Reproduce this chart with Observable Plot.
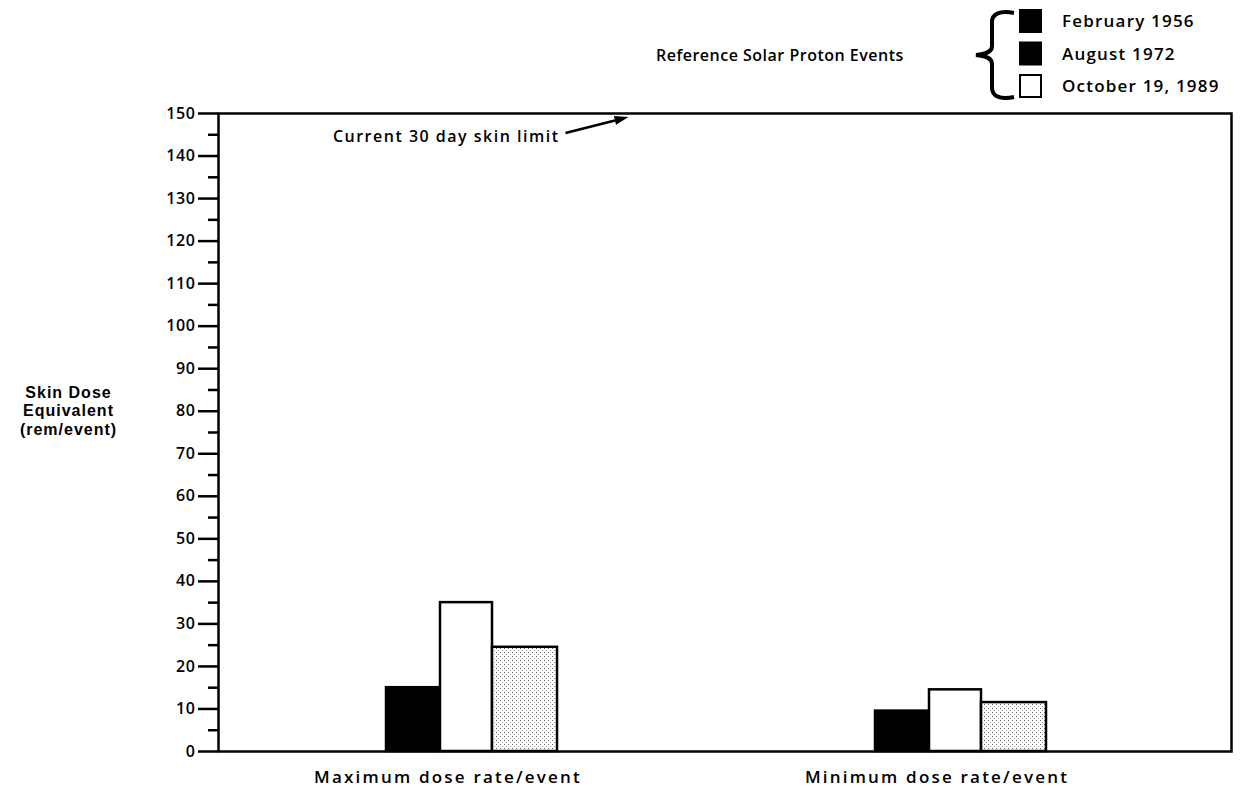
<!DOCTYPE html>
<html>
<head>
<meta charset="utf-8">
<script src="https://cdn.jsdelivr.net/npm/d3@7"></script>
<script src="https://cdn.jsdelivr.net/npm/@observablehq/plot@0.6"></script>
<style>
  body { margin: 0; background: #fff; font-family: "Open Sans", sans-serif; }
  #legend { height: 100px; }
  #legend text { font-family: "Open Sans", sans-serif; font-weight: 600; fill: #000; }
  #chart svg text { font-family: "Open Sans", sans-serif; font-weight: 600; }
  .ann { letter-spacing: 1.5px; font-size: 16px; }
  .cat text { letter-spacing: 2.2px; }
  .ytick text { letter-spacing: 0.6px; }
  #chart svg .ylab text { font-family: "Liberation Sans", sans-serif; font-weight: 700; letter-spacing: 1px; }
</style>
</head>
<body>
<div id="legend"></div>
<div id="chart"></div>
<svg width="0" height="0" style="position:absolute">
  <defs>
    <pattern id="stipple" width="4" height="4" patternUnits="userSpaceOnUse">
      <rect width="4" height="4" fill="#fff"></rect>
      <rect x="0" y="0" width="1" height="1" fill="#666"></rect>
      <rect x="2" y="2" width="1" height="1" fill="#999"></rect>
    </pattern>
  </defs>
</svg>
<script>
// ---- data ----
const groups = ["Maximum dose rate/event", "Minimum dose rate/event"];
const events = ["February 1956", "August 1972", "October 19, 1989"];
const maxValues = [15, 35, 24.5];
const minValues = [9.5, 14.5, 11.5];
const yTicks = [0, 10, 20, 30, 40, 50, 60, 70, 80, 90, 100, 110, 120, 130, 140, 150];
const yMinorTicks = [5, 15, 25, 35, 45, 55, 65, 75, 85, 95, 105, 115, 125, 135, 145];
const yLabel = "Skin Dose\nEquivalent\n(rem/event)";
const legendTitle = "Reference Solar Proton Events";
const annotationText = "Current 30 day skin limit";
const annotationValue = 150;

// ---- styles ----
const barFills = ["black", "white", "url(#stipple)"];
const barInsets = [[0, 117], [54, 65], [106, 0]];
const legendFills = ["black", "black", "white"];

const rows = groups.flatMap((g, gi) =>
  events.map((e, ei) => ({group: g, event: e, value: (gi === 0 ? maxValues : minValues)[ei]}))
);

// ---- legend (above the chart) ----
const leg = d3.select("#legend").append("svg").attr("width", 1243).attr("height", 100);
leg.append("text").attr("x", 656).attr("y", 61).attr("font-size", 16)
  .attr("letter-spacing", "0.5px").text(legendTitle);
leg.append("path")
  .attr("d", "M1014,13 C1000,10 992,14 992,22 L992,46 C992,52 986,54 976,55 C986,56 992,58 992,64 L992,88 C992,96 1000,100 1014,97")
  .attr("fill", "none").attr("stroke", "black").attr("stroke-width", 4);
events.forEach((e, i) => {
  const top = 10 + i * 32.5;
  leg.append("rect").attr("x", 1020).attr("y", top).attr("width", 21).attr("height", 22)
    .attr("fill", legendFills[i]).attr("stroke", "black").attr("stroke-width", 2);
  leg.append("text").attr("x", 1062).attr("y", top + 17).attr("font-size", 17)
    .attr("letter-spacing", "1.2px").text(e);
});

// ---- annotation mark (uses the chart's scales) ----
function annotation(index, scales) {
  const x = scales.x, y = scales.y;
  const bw = typeof x.bandwidth === "function" ? x.bandwidth() : (x.bandwidth || 0);
  const cx = x(groups[0]) + bw / 2;
  const y0 = y(annotationValue);
  const g = d3.create("svg:g");
  g.append("text").attr("class", "ann").attr("x", cx + 88).attr("y", y0 + 29).attr("text-anchor", "end")
    .attr("fill", "black").text(annotationText);
  const x1 = cx + 94, y1 = y0 + 20, tx = cx + 157, ty = y0 + 4;
  const dx = tx - x1, dy = ty - y1, len = Math.hypot(dx, dy);
  const ux = dx / len, uy = dy / len, nx = -uy, ny = ux;
  const hl = 14, hw = 4.5;
  const bx = tx - ux * hl, by = ty - uy * hl;
  g.append("line").attr("x1", x1).attr("y1", y1).attr("x2", bx).attr("y2", by)
    .attr("stroke", "black").attr("stroke-width", 2.5);
  g.append("path").attr("d", `M${tx},${ty}L${bx + nx * hw},${by + ny * hw}L${bx - nx * hw},${by - ny * hw}Z`)
    .attr("fill", "black");
  return g.node();
}

const chart = Plot.plot({
  width: 1243,
  height: 688,
  marginLeft: 218,
  marginRight: 12,
  marginTop: 13,
  marginBottom: 37,
  style: {fontFamily: "'Open Sans', sans-serif", fontSize: "16px", fontWeight: 600, color: "black", background: "white"},
  x: {domain: groups, paddingInner: 0.65, paddingOuter: 0.36, align: 0.477},
  y: {domain: [0, 150]},
  marks: [
    ...events.map((e, i) => Plot.barY(rows.filter(d => d.event === e), {
      x: "group", y: "value", fill: barFills[i], stroke: "black", strokeWidth: 2.5,
      insetLeft: barInsets[i][0], insetRight: barInsets[i][1]
    })),
    Plot.frame({stroke: "black", strokeWidth: 2.5}),
    Plot.axisY(yTicks, {tickSize: 20, tickPadding: 3, strokeWidth: 2.5, label: null, fontSize: 16, className: "ytick"}),
    Plot.axisY(yMinorTicks, {tickSize: 10, tickFormat: () => "", strokeWidth: 2.5, label: null}),
    Plot.axisX({tickSize: 0, tickPadding: 19, dx: -24, label: null, fontSize: 17, className: "cat"}),
    Plot.text([yLabel], {frameAnchor: "left", dx: -150, dy: -22, textAnchor: "middle", lineHeight: 1.14, fontSize: 16, className: "ylab"}),
    annotation
  ]
});
document.getElementById("chart").append(chart);
</script>
</body>
</html>
